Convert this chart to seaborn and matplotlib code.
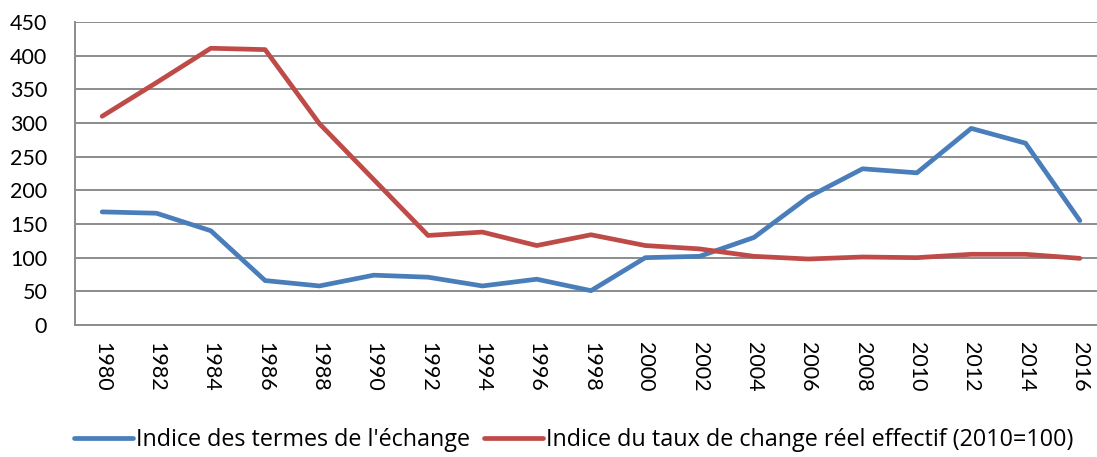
import numpy as np
import pandas as pd
import matplotlib
matplotlib.use("Agg")
import matplotlib.pyplot as plt
import seaborn as sns

years = list(range(1980, 2017, 2))
termes_echange = [168, 166, 140, 66, 58, 74, 71, 58, 68, 51,
                  100, 102, 130, 190, 232, 226, 292, 270, 155]
taux_change = [310, 360, 411, 409, 299, 216, 133, 138, 118, 134,
               118, 113, 102, 98, 101, 100, 105, 105, 99]

LABEL_TERMES = "Indice des termes de l'échange"
LABEL_TAUX = "Indice du taux de change réel effectif (2010=100)"

BLUE = "#4A7EBB"
RED = "#BE4B48"
GRID = "#8C8C8C"

df = pd.DataFrame({
    "annee": years * 2,
    "valeur": termes_echange + taux_change,
    "serie": [LABEL_TERMES] * len(years) + [LABEL_TAUX] * len(years),
})

sns.set_style("white")
plt.rcParams["font.family"] = ["Lato", "DejaVu Sans"]
plt.rcParams["text.color"] = "black"

fig = plt.figure(figsize=(10.97, 4.57), dpi=100)
ax = fig.add_axes([75 / 1097, 1 - 325 / 457, 1032 / 1097, 303 / 457])

sns.lineplot(data=df, x="annee", y="valeur", hue="serie",
             palette={LABEL_TERMES: BLUE, LABEL_TAUX: RED},
             linewidth=3.4, ax=ax, legend=False)
for line in ax.get_lines():
    line.set_solid_capstyle("round")
    line.set_solid_joinstyle("round")

ax.set_xlim(1979, 2017)
ax.set_ylim(0, 450)
ax.set_yticks(np.arange(0, 451, 50))
ax.set_xticks(years)
ax.set_xticklabels([str(y) for y in years], rotation=270, fontsize=15.5)
ax.tick_params(axis="y", labelsize=15.5, length=0, pad=20, labelcolor="black")
ax.tick_params(axis="x", length=0, pad=12, labelcolor="black")
ax.set_xlabel("")
ax.set_ylabel("")

ax.yaxis.grid(True, color=GRID, linewidth=1.4)
ax.set_axisbelow(True)
for side in ["top", "right"]:
    ax.spines[side].set_visible(False)
for side in ["left", "bottom"]:
    ax.spines[side].set_color(GRID)
    ax.spines[side].set_linewidth(1.4)

handles = [plt.Line2D([], [], color=BLUE, linewidth=3.4, solid_capstyle="round"),
           plt.Line2D([], [], color=RED, linewidth=3.4, solid_capstyle="round")]
fig.legend(handles, [LABEL_TERMES, LABEL_TAUX], loc="center",
           bbox_to_anchor=(574 / 1097, 1 - 440 / 457), ncol=2, frameon=False,
           prop={"family": ["Open Sans", "DejaVu Sans"], "size": 16.8},
           labelcolor="black",
           handlelength=2.5, handletextpad=0.15, columnspacing=0.6)

fig.savefig("out.png", dpi=100)
